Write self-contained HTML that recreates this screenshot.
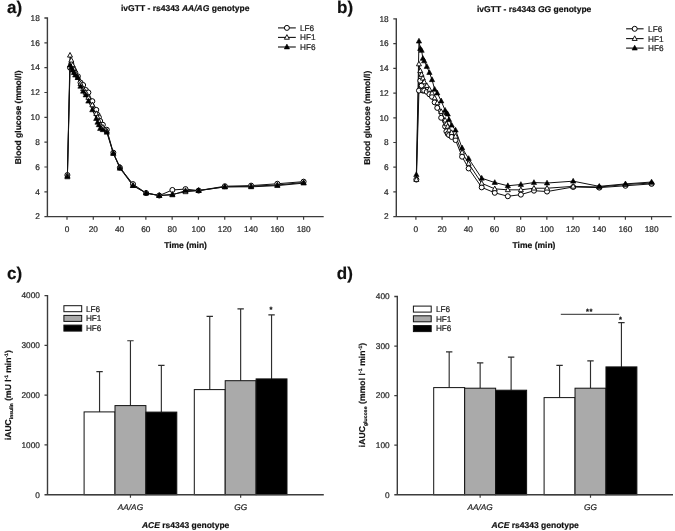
<!DOCTYPE html>
<html><head><meta charset="utf-8"><style>
html,body{margin:0;padding:0;background:#fff;}
svg{display:block;will-change:transform;}
text{font-family:"Liberation Sans",sans-serif;text-rendering:geometricPrecision;}
</style></head><body>
<svg width="675" height="531" viewBox="0 0 675 531">
<g>
<rect width="675" height="531" fill="#fff"/>
<path d="M44.40,18.00H47.40V216.65M44.40,216.65H323.70" fill="none" stroke="#3c3c3c" stroke-width="1.4"/>
<path d="M44.40,191.82H47.40M44.40,166.99H47.40M44.40,142.16H47.40M44.40,117.33H47.40M44.40,92.49H47.40M44.40,67.66H47.40M44.40,42.83H47.40M67.00,216.65V219.65M93.29,216.65V219.65M119.58,216.65V219.65M145.86,216.65V219.65M172.15,216.65V219.65M198.44,216.65V219.65M224.73,216.65V219.65M251.02,216.65V219.65M277.30,216.65V219.65M303.59,216.65V219.65" fill="none" stroke="#3c3c3c" stroke-width="1.2"/>
<text x="39.80" y="219.45" text-anchor="end" font-size="8.3" fill="#222" stroke="#222" stroke-width="0.2">2</text>
<text x="39.80" y="194.62" text-anchor="end" font-size="8.3" fill="#222" stroke="#222" stroke-width="0.2">4</text>
<text x="39.80" y="169.79" text-anchor="end" font-size="8.3" fill="#222" stroke="#222" stroke-width="0.2">6</text>
<text x="39.80" y="144.96" text-anchor="end" font-size="8.3" fill="#222" stroke="#222" stroke-width="0.2">8</text>
<text x="39.80" y="120.12" text-anchor="end" font-size="8.3" fill="#222" stroke="#222" stroke-width="0.2">10</text>
<text x="39.80" y="95.29" text-anchor="end" font-size="8.3" fill="#222" stroke="#222" stroke-width="0.2">12</text>
<text x="39.80" y="70.46" text-anchor="end" font-size="8.3" fill="#222" stroke="#222" stroke-width="0.2">14</text>
<text x="39.80" y="45.63" text-anchor="end" font-size="8.3" fill="#222" stroke="#222" stroke-width="0.2">16</text>
<text x="39.80" y="20.80" text-anchor="end" font-size="8.3" fill="#222" stroke="#222" stroke-width="0.2">18</text>
<text x="67.00" y="231.85" text-anchor="middle" font-size="8.3" fill="#222" stroke="#222" stroke-width="0.2">0</text>
<text x="93.29" y="231.85" text-anchor="middle" font-size="8.3" fill="#222" stroke="#222" stroke-width="0.2">20</text>
<text x="119.58" y="231.85" text-anchor="middle" font-size="8.3" fill="#222" stroke="#222" stroke-width="0.2">40</text>
<text x="145.86" y="231.85" text-anchor="middle" font-size="8.3" fill="#222" stroke="#222" stroke-width="0.2">60</text>
<text x="172.15" y="231.85" text-anchor="middle" font-size="8.3" fill="#222" stroke="#222" stroke-width="0.2">80</text>
<text x="198.44" y="231.85" text-anchor="middle" font-size="8.3" fill="#222" stroke="#222" stroke-width="0.2">100</text>
<text x="224.73" y="231.85" text-anchor="middle" font-size="8.3" fill="#222" stroke="#222" stroke-width="0.2">120</text>
<text x="251.02" y="231.85" text-anchor="middle" font-size="8.3" fill="#222" stroke="#222" stroke-width="0.2">140</text>
<text x="277.30" y="231.85" text-anchor="middle" font-size="8.3" fill="#222" stroke="#222" stroke-width="0.2">160</text>
<text x="303.59" y="231.85" text-anchor="middle" font-size="8.3" fill="#222" stroke="#222" stroke-width="0.2">180</text>
<text x="185.55" y="248.05" text-anchor="middle" font-size="8.5" font-weight="bold" fill="#111" stroke="#111" stroke-width="0.2">Time (min)</text>
<text transform="translate(21.40,117.33) rotate(-90)" text-anchor="middle" font-size="8.5" font-weight="bold" fill="#111" stroke="#111" stroke-width="0.2">Blood glucose (mmol/l)</text>
<text x="121.00" y="11.00" font-size="8.5" font-weight="bold" fill="#111" stroke="#111" stroke-width="0.2">ivGTT - rs4343 <tspan font-style="italic">AA/AG</tspan> genotype</text>
<text x="7.00" y="13.10" font-size="17" font-weight="bold" fill="#111" stroke="#111" stroke-width="0.2">a)</text>
<polyline points="67.40,175.06 70.02,67.66 71.34,63.94 72.65,67.66 73.96,70.15 75.27,72.63 77.90,76.35 80.52,82.56 83.15,85.04 85.77,90.01 88.40,92.49 92.33,101.18 96.27,109.88 97.58,114.84 98.89,117.33 100.21,121.05 102.83,124.77 106.77,129.74 113.33,152.71 119.89,167.61 133.01,184.12 146.13,193.06 159.25,195.54 172.38,189.96 185.50,189.09 198.62,190.58 224.86,186.23 251.11,185.61 277.35,183.75 303.60,181.64" fill="none" stroke="#111" stroke-width="1.0"/>
<polyline points="67.40,175.68 70.02,55.25 71.34,60.21 72.65,65.18 73.96,68.90 75.27,72.63 77.90,77.59 80.52,83.80 83.15,88.77 85.77,92.49 88.40,97.46 92.33,104.91 96.27,113.60 97.58,117.33 98.89,121.05 100.21,124.77 102.83,127.26 106.77,130.98 113.33,153.33 119.89,166.99 133.01,185.61 146.13,193.06 159.25,195.54 172.38,194.30 185.50,191.82 198.62,190.58 224.86,186.85 251.11,186.23 277.35,184.99 303.60,182.51" fill="none" stroke="#111" stroke-width="1.0"/>
<polyline points="67.40,176.92 70.02,65.18 71.34,67.66 72.65,70.15 73.96,72.63 75.27,75.11 77.90,77.59 80.52,86.29 83.15,91.25 85.77,94.98 88.40,101.18 92.33,109.88 96.27,118.57 97.58,122.29 98.89,124.77 100.21,128.50 102.83,129.74 106.77,132.22 113.33,153.33 119.89,168.23 133.01,185.61 146.13,193.06 159.25,195.54 172.38,194.92 185.50,190.58 198.62,190.58 224.86,186.85 251.11,186.85 277.35,185.61 303.60,183.13" fill="none" stroke="#111" stroke-width="1.0"/>
<circle cx="67.40" cy="175.06" r="2.5" fill="#fff" stroke="#000" stroke-width="1"/>
<circle cx="70.02" cy="67.66" r="2.5" fill="#fff" stroke="#000" stroke-width="1"/>
<circle cx="71.34" cy="63.94" r="2.5" fill="#fff" stroke="#000" stroke-width="1"/>
<circle cx="72.65" cy="67.66" r="2.5" fill="#fff" stroke="#000" stroke-width="1"/>
<circle cx="73.96" cy="70.15" r="2.5" fill="#fff" stroke="#000" stroke-width="1"/>
<circle cx="75.27" cy="72.63" r="2.5" fill="#fff" stroke="#000" stroke-width="1"/>
<circle cx="77.90" cy="76.35" r="2.5" fill="#fff" stroke="#000" stroke-width="1"/>
<circle cx="80.52" cy="82.56" r="2.5" fill="#fff" stroke="#000" stroke-width="1"/>
<circle cx="83.15" cy="85.04" r="2.5" fill="#fff" stroke="#000" stroke-width="1"/>
<circle cx="85.77" cy="90.01" r="2.5" fill="#fff" stroke="#000" stroke-width="1"/>
<circle cx="88.40" cy="92.49" r="2.5" fill="#fff" stroke="#000" stroke-width="1"/>
<circle cx="92.33" cy="101.18" r="2.5" fill="#fff" stroke="#000" stroke-width="1"/>
<circle cx="96.27" cy="109.88" r="2.5" fill="#fff" stroke="#000" stroke-width="1"/>
<circle cx="97.58" cy="114.84" r="2.5" fill="#fff" stroke="#000" stroke-width="1"/>
<circle cx="98.89" cy="117.33" r="2.5" fill="#fff" stroke="#000" stroke-width="1"/>
<circle cx="100.21" cy="121.05" r="2.5" fill="#fff" stroke="#000" stroke-width="1"/>
<circle cx="102.83" cy="124.77" r="2.5" fill="#fff" stroke="#000" stroke-width="1"/>
<circle cx="106.77" cy="129.74" r="2.5" fill="#fff" stroke="#000" stroke-width="1"/>
<circle cx="113.33" cy="152.71" r="2.5" fill="#fff" stroke="#000" stroke-width="1"/>
<circle cx="119.89" cy="167.61" r="2.5" fill="#fff" stroke="#000" stroke-width="1"/>
<circle cx="133.01" cy="184.12" r="2.5" fill="#fff" stroke="#000" stroke-width="1"/>
<circle cx="146.13" cy="193.06" r="2.5" fill="#fff" stroke="#000" stroke-width="1"/>
<circle cx="159.25" cy="195.54" r="2.5" fill="#fff" stroke="#000" stroke-width="1"/>
<circle cx="172.38" cy="189.96" r="2.5" fill="#fff" stroke="#000" stroke-width="1"/>
<circle cx="185.50" cy="189.09" r="2.5" fill="#fff" stroke="#000" stroke-width="1"/>
<circle cx="198.62" cy="190.58" r="2.5" fill="#fff" stroke="#000" stroke-width="1"/>
<circle cx="224.86" cy="186.23" r="2.5" fill="#fff" stroke="#000" stroke-width="1"/>
<circle cx="251.11" cy="185.61" r="2.5" fill="#fff" stroke="#000" stroke-width="1"/>
<circle cx="277.35" cy="183.75" r="2.5" fill="#fff" stroke="#000" stroke-width="1"/>
<circle cx="303.60" cy="181.64" r="2.5" fill="#fff" stroke="#000" stroke-width="1"/>
<polygon points="67.40,172.92 64.90,177.52 69.90,177.52" fill="#fff" stroke="#000" stroke-width="0.9"/>
<polygon points="70.02,52.49 67.52,57.09 72.52,57.09" fill="#fff" stroke="#000" stroke-width="0.9"/>
<polygon points="71.34,57.45 68.84,62.05 73.84,62.05" fill="#fff" stroke="#000" stroke-width="0.9"/>
<polygon points="72.65,62.42 70.15,67.02 75.15,67.02" fill="#fff" stroke="#000" stroke-width="0.9"/>
<polygon points="73.96,66.14 71.46,70.74 76.46,70.74" fill="#fff" stroke="#000" stroke-width="0.9"/>
<polygon points="75.27,69.87 72.77,74.47 77.77,74.47" fill="#fff" stroke="#000" stroke-width="0.9"/>
<polygon points="77.90,74.83 75.40,79.44 80.40,79.44" fill="#fff" stroke="#000" stroke-width="0.9"/>
<polygon points="80.52,81.04 78.02,85.64 83.02,85.64" fill="#fff" stroke="#000" stroke-width="0.9"/>
<polygon points="83.15,86.01 80.65,90.61 85.65,90.61" fill="#fff" stroke="#000" stroke-width="0.9"/>
<polygon points="85.77,89.73 83.27,94.33 88.27,94.33" fill="#fff" stroke="#000" stroke-width="0.9"/>
<polygon points="88.40,94.70 85.90,99.30 90.90,99.30" fill="#fff" stroke="#000" stroke-width="0.9"/>
<polygon points="92.33,102.15 89.83,106.75 94.83,106.75" fill="#fff" stroke="#000" stroke-width="0.9"/>
<polygon points="96.27,110.84 93.77,115.44 98.77,115.44" fill="#fff" stroke="#000" stroke-width="0.9"/>
<polygon points="97.58,114.56 95.08,119.17 100.08,119.17" fill="#fff" stroke="#000" stroke-width="0.9"/>
<polygon points="98.89,118.29 96.39,122.89 101.39,122.89" fill="#fff" stroke="#000" stroke-width="0.9"/>
<polygon points="100.21,122.01 97.71,126.61 102.71,126.61" fill="#fff" stroke="#000" stroke-width="0.9"/>
<polygon points="102.83,124.50 100.33,129.10 105.33,129.10" fill="#fff" stroke="#000" stroke-width="0.9"/>
<polygon points="106.77,128.22 104.27,132.82 109.27,132.82" fill="#fff" stroke="#000" stroke-width="0.9"/>
<polygon points="113.33,150.57 110.83,155.17 115.83,155.17" fill="#fff" stroke="#000" stroke-width="0.9"/>
<polygon points="119.89,164.23 117.39,168.83 122.39,168.83" fill="#fff" stroke="#000" stroke-width="0.9"/>
<polygon points="133.01,182.85 130.51,187.45 135.51,187.45" fill="#fff" stroke="#000" stroke-width="0.9"/>
<polygon points="146.13,190.30 143.63,194.90 148.63,194.90" fill="#fff" stroke="#000" stroke-width="0.9"/>
<polygon points="159.25,192.78 156.75,197.38 161.75,197.38" fill="#fff" stroke="#000" stroke-width="0.9"/>
<polygon points="172.38,191.54 169.88,196.14 174.88,196.14" fill="#fff" stroke="#000" stroke-width="0.9"/>
<polygon points="185.50,189.06 183.00,193.66 188.00,193.66" fill="#fff" stroke="#000" stroke-width="0.9"/>
<polygon points="198.62,187.82 196.12,192.42 201.12,192.42" fill="#fff" stroke="#000" stroke-width="0.9"/>
<polygon points="224.86,184.09 222.36,188.69 227.36,188.69" fill="#fff" stroke="#000" stroke-width="0.9"/>
<polygon points="251.11,183.47 248.61,188.07 253.61,188.07" fill="#fff" stroke="#000" stroke-width="0.9"/>
<polygon points="277.35,182.23 274.85,186.83 279.85,186.83" fill="#fff" stroke="#000" stroke-width="0.9"/>
<polygon points="303.60,179.75 301.10,184.35 306.10,184.35" fill="#fff" stroke="#000" stroke-width="0.9"/>
<polygon points="67.40,174.04 64.75,178.84 70.05,178.84" fill="#000" stroke="#000" stroke-width="0.6"/>
<polygon points="70.02,62.30 67.37,67.10 72.67,67.10" fill="#000" stroke="#000" stroke-width="0.6"/>
<polygon points="71.34,64.78 68.69,69.58 73.99,69.58" fill="#000" stroke="#000" stroke-width="0.6"/>
<polygon points="72.65,67.27 70.00,72.07 75.30,72.07" fill="#000" stroke="#000" stroke-width="0.6"/>
<polygon points="73.96,69.75 71.31,74.55 76.61,74.55" fill="#000" stroke="#000" stroke-width="0.6"/>
<polygon points="75.27,72.23 72.62,77.03 77.92,77.03" fill="#000" stroke="#000" stroke-width="0.6"/>
<polygon points="77.90,74.72 75.25,79.52 80.55,79.52" fill="#000" stroke="#000" stroke-width="0.6"/>
<polygon points="80.52,83.41 77.87,88.21 83.17,88.21" fill="#000" stroke="#000" stroke-width="0.6"/>
<polygon points="83.15,88.37 80.50,93.17 85.80,93.17" fill="#000" stroke="#000" stroke-width="0.6"/>
<polygon points="85.77,92.10 83.12,96.90 88.42,96.90" fill="#000" stroke="#000" stroke-width="0.6"/>
<polygon points="88.40,98.30 85.75,103.10 91.05,103.10" fill="#000" stroke="#000" stroke-width="0.6"/>
<polygon points="92.33,107.00 89.68,111.80 94.98,111.80" fill="#000" stroke="#000" stroke-width="0.6"/>
<polygon points="96.27,115.69 93.62,120.49 98.92,120.49" fill="#000" stroke="#000" stroke-width="0.6"/>
<polygon points="97.58,119.41 94.93,124.21 100.23,124.21" fill="#000" stroke="#000" stroke-width="0.6"/>
<polygon points="98.89,121.89 96.24,126.69 101.54,126.69" fill="#000" stroke="#000" stroke-width="0.6"/>
<polygon points="100.21,125.62 97.56,130.42 102.86,130.42" fill="#000" stroke="#000" stroke-width="0.6"/>
<polygon points="102.83,126.86 100.18,131.66 105.48,131.66" fill="#000" stroke="#000" stroke-width="0.6"/>
<polygon points="106.77,129.34 104.12,134.14 109.42,134.14" fill="#000" stroke="#000" stroke-width="0.6"/>
<polygon points="113.33,150.45 110.68,155.25 115.98,155.25" fill="#000" stroke="#000" stroke-width="0.6"/>
<polygon points="119.89,165.35 117.24,170.15 122.54,170.15" fill="#000" stroke="#000" stroke-width="0.6"/>
<polygon points="133.01,182.73 130.36,187.53 135.66,187.53" fill="#000" stroke="#000" stroke-width="0.6"/>
<polygon points="146.13,190.18 143.48,194.98 148.78,194.98" fill="#000" stroke="#000" stroke-width="0.6"/>
<polygon points="159.25,192.66 156.60,197.46 161.90,197.46" fill="#000" stroke="#000" stroke-width="0.6"/>
<polygon points="172.38,192.04 169.73,196.84 175.03,196.84" fill="#000" stroke="#000" stroke-width="0.6"/>
<polygon points="185.50,187.70 182.85,192.50 188.15,192.50" fill="#000" stroke="#000" stroke-width="0.6"/>
<polygon points="198.62,187.70 195.97,192.50 201.27,192.50" fill="#000" stroke="#000" stroke-width="0.6"/>
<polygon points="224.86,183.97 222.21,188.77 227.51,188.77" fill="#000" stroke="#000" stroke-width="0.6"/>
<polygon points="251.11,183.97 248.46,188.77 253.76,188.77" fill="#000" stroke="#000" stroke-width="0.6"/>
<polygon points="277.35,182.73 274.70,187.53 280.00,187.53" fill="#000" stroke="#000" stroke-width="0.6"/>
<polygon points="303.60,180.25 300.95,185.05 306.25,185.05" fill="#000" stroke="#000" stroke-width="0.6"/>
<path d="M278.00,27.90H295.80" stroke="#111" stroke-width="1.1"/>
<circle cx="286.90" cy="27.90" r="2.5" fill="#fff" stroke="#000" stroke-width="1"/>
<text x="300.00" y="30.80" font-size="8.2" fill="#222" stroke="#222" stroke-width="0.2">LF6</text>
<path d="M278.00,37.40H295.80" stroke="#111" stroke-width="1.1"/>
<polygon points="286.90,34.64 284.40,39.24 289.40,39.24" fill="#fff" stroke="#000" stroke-width="0.9"/>
<text x="300.00" y="40.30" font-size="8.2" fill="#222" stroke="#222" stroke-width="0.2">HF1</text>
<path d="M278.00,47.00H295.80" stroke="#111" stroke-width="1.1"/>
<polygon points="286.90,44.12 284.25,48.92 289.55,48.92" fill="#000" stroke="#000" stroke-width="0.6"/>
<text x="300.00" y="49.90" font-size="8.2" fill="#222" stroke="#222" stroke-width="0.2">HF6</text>
<path d="M393.30,18.90H396.30V216.65M393.30,216.65H671.70" fill="none" stroke="#3c3c3c" stroke-width="1.4"/>
<path d="M393.30,191.93H396.30M393.30,167.21H396.30M393.30,142.49H396.30M393.30,117.78H396.30M393.30,93.06H396.30M393.30,68.34H396.30M393.30,43.62H396.30M415.90,216.65V219.65M442.09,216.65V219.65M468.28,216.65V219.65M494.46,216.65V219.65M520.65,216.65V219.65M546.84,216.65V219.65M573.03,216.65V219.65M599.22,216.65V219.65M625.40,216.65V219.65M651.59,216.65V219.65" fill="none" stroke="#3c3c3c" stroke-width="1.2"/>
<text x="388.70" y="219.45" text-anchor="end" font-size="8.3" fill="#222" stroke="#222" stroke-width="0.2">2</text>
<text x="388.70" y="194.73" text-anchor="end" font-size="8.3" fill="#222" stroke="#222" stroke-width="0.2">4</text>
<text x="388.70" y="170.01" text-anchor="end" font-size="8.3" fill="#222" stroke="#222" stroke-width="0.2">6</text>
<text x="388.70" y="145.29" text-anchor="end" font-size="8.3" fill="#222" stroke="#222" stroke-width="0.2">8</text>
<text x="388.70" y="120.58" text-anchor="end" font-size="8.3" fill="#222" stroke="#222" stroke-width="0.2">10</text>
<text x="388.70" y="95.86" text-anchor="end" font-size="8.3" fill="#222" stroke="#222" stroke-width="0.2">12</text>
<text x="388.70" y="71.14" text-anchor="end" font-size="8.3" fill="#222" stroke="#222" stroke-width="0.2">14</text>
<text x="388.70" y="46.42" text-anchor="end" font-size="8.3" fill="#222" stroke="#222" stroke-width="0.2">16</text>
<text x="388.70" y="21.70" text-anchor="end" font-size="8.3" fill="#222" stroke="#222" stroke-width="0.2">18</text>
<text x="415.90" y="231.85" text-anchor="middle" font-size="8.3" fill="#222" stroke="#222" stroke-width="0.2">0</text>
<text x="442.09" y="231.85" text-anchor="middle" font-size="8.3" fill="#222" stroke="#222" stroke-width="0.2">20</text>
<text x="468.28" y="231.85" text-anchor="middle" font-size="8.3" fill="#222" stroke="#222" stroke-width="0.2">40</text>
<text x="494.46" y="231.85" text-anchor="middle" font-size="8.3" fill="#222" stroke="#222" stroke-width="0.2">60</text>
<text x="520.65" y="231.85" text-anchor="middle" font-size="8.3" fill="#222" stroke="#222" stroke-width="0.2">80</text>
<text x="546.84" y="231.85" text-anchor="middle" font-size="8.3" fill="#222" stroke="#222" stroke-width="0.2">100</text>
<text x="573.03" y="231.85" text-anchor="middle" font-size="8.3" fill="#222" stroke="#222" stroke-width="0.2">120</text>
<text x="599.22" y="231.85" text-anchor="middle" font-size="8.3" fill="#222" stroke="#222" stroke-width="0.2">140</text>
<text x="625.40" y="231.85" text-anchor="middle" font-size="8.3" fill="#222" stroke="#222" stroke-width="0.2">160</text>
<text x="651.59" y="231.85" text-anchor="middle" font-size="8.3" fill="#222" stroke="#222" stroke-width="0.2">180</text>
<text x="534.00" y="248.05" text-anchor="middle" font-size="8.5" font-weight="bold" fill="#111" stroke="#111" stroke-width="0.2">Time (min)</text>
<text transform="translate(370.00,117.78) rotate(-90)" text-anchor="middle" font-size="8.5" font-weight="bold" fill="#111" stroke="#111" stroke-width="0.2">Blood glucose (mmol/l)</text>
<text x="477.00" y="11.60" font-size="8.5" font-weight="bold" fill="#111" stroke="#111" stroke-width="0.2">ivGTT - rs4343 <tspan font-style="italic">GG</tspan> genotype</text>
<text x="337.00" y="13.40" font-size="17" font-weight="bold" fill="#111" stroke="#111" stroke-width="0.2">b)</text>
<polyline points="416.35,179.57 418.96,90.58 420.27,80.70 421.58,85.64 422.88,90.58 424.19,90.58 426.80,91.82 429.42,94.29 432.03,96.76 434.65,102.33 437.26,107.89 441.18,117.78 445.10,126.43 446.41,131.37 447.71,133.84 449.02,135.08 451.63,136.93 455.55,140.02 462.09,156.71 468.62,168.45 481.69,187.36 494.76,192.80 507.83,196.26 520.89,194.65 533.96,190.70 547.03,191.56 573.17,186.99 599.30,187.61 625.44,185.75 651.57,183.90" fill="none" stroke="#111" stroke-width="1.0"/>
<polyline points="416.35,179.57 418.96,64.01 420.27,70.81 421.58,74.52 422.88,78.23 424.19,81.93 426.80,85.64 429.42,89.35 432.03,93.06 434.65,98.00 437.26,102.94 441.18,111.60 445.10,120.25 446.41,123.95 447.71,126.43 449.02,130.13 451.63,132.61 455.55,136.31 462.09,152.38 468.62,163.50 481.69,183.28 494.76,188.84 507.83,189.83 520.89,189.83 533.96,188.22 547.03,188.22 573.17,186.37 599.30,186.99 625.44,184.52 651.57,183.03" fill="none" stroke="#111" stroke-width="1.0"/>
<polyline points="416.35,174.63 418.96,41.15 420.27,48.56 421.58,50.42 422.88,58.45 424.19,60.92 426.80,66.48 429.42,72.54 432.03,79.71 434.65,89.35 437.26,93.06 441.18,100.97 445.10,110.36 446.41,112.83 447.71,114.07 449.02,119.63 451.63,125.19 455.55,130.13 462.09,147.93 468.62,158.56 481.69,178.21 494.76,182.54 507.83,185.75 520.89,184.52 533.96,182.54 547.03,183.03 573.17,181.18 599.30,186.37 625.44,183.90 651.57,182.04" fill="none" stroke="#111" stroke-width="1.0"/>
<circle cx="416.35" cy="179.57" r="2.5" fill="#fff" stroke="#000" stroke-width="1"/>
<circle cx="418.96" cy="90.58" r="2.5" fill="#fff" stroke="#000" stroke-width="1"/>
<circle cx="420.27" cy="80.70" r="2.5" fill="#fff" stroke="#000" stroke-width="1"/>
<circle cx="421.58" cy="85.64" r="2.5" fill="#fff" stroke="#000" stroke-width="1"/>
<circle cx="422.88" cy="90.58" r="2.5" fill="#fff" stroke="#000" stroke-width="1"/>
<circle cx="424.19" cy="90.58" r="2.5" fill="#fff" stroke="#000" stroke-width="1"/>
<circle cx="426.80" cy="91.82" r="2.5" fill="#fff" stroke="#000" stroke-width="1"/>
<circle cx="429.42" cy="94.29" r="2.5" fill="#fff" stroke="#000" stroke-width="1"/>
<circle cx="432.03" cy="96.76" r="2.5" fill="#fff" stroke="#000" stroke-width="1"/>
<circle cx="434.65" cy="102.33" r="2.5" fill="#fff" stroke="#000" stroke-width="1"/>
<circle cx="437.26" cy="107.89" r="2.5" fill="#fff" stroke="#000" stroke-width="1"/>
<circle cx="441.18" cy="117.78" r="2.5" fill="#fff" stroke="#000" stroke-width="1"/>
<circle cx="445.10" cy="126.43" r="2.5" fill="#fff" stroke="#000" stroke-width="1"/>
<circle cx="446.41" cy="131.37" r="2.5" fill="#fff" stroke="#000" stroke-width="1"/>
<circle cx="447.71" cy="133.84" r="2.5" fill="#fff" stroke="#000" stroke-width="1"/>
<circle cx="449.02" cy="135.08" r="2.5" fill="#fff" stroke="#000" stroke-width="1"/>
<circle cx="451.63" cy="136.93" r="2.5" fill="#fff" stroke="#000" stroke-width="1"/>
<circle cx="455.55" cy="140.02" r="2.5" fill="#fff" stroke="#000" stroke-width="1"/>
<circle cx="462.09" cy="156.71" r="2.5" fill="#fff" stroke="#000" stroke-width="1"/>
<circle cx="468.62" cy="168.45" r="2.5" fill="#fff" stroke="#000" stroke-width="1"/>
<circle cx="481.69" cy="187.36" r="2.5" fill="#fff" stroke="#000" stroke-width="1"/>
<circle cx="494.76" cy="192.80" r="2.5" fill="#fff" stroke="#000" stroke-width="1"/>
<circle cx="507.83" cy="196.26" r="2.5" fill="#fff" stroke="#000" stroke-width="1"/>
<circle cx="520.89" cy="194.65" r="2.5" fill="#fff" stroke="#000" stroke-width="1"/>
<circle cx="533.96" cy="190.70" r="2.5" fill="#fff" stroke="#000" stroke-width="1"/>
<circle cx="547.03" cy="191.56" r="2.5" fill="#fff" stroke="#000" stroke-width="1"/>
<circle cx="573.17" cy="186.99" r="2.5" fill="#fff" stroke="#000" stroke-width="1"/>
<circle cx="599.30" cy="187.61" r="2.5" fill="#fff" stroke="#000" stroke-width="1"/>
<circle cx="625.44" cy="185.75" r="2.5" fill="#fff" stroke="#000" stroke-width="1"/>
<circle cx="651.57" cy="183.90" r="2.5" fill="#fff" stroke="#000" stroke-width="1"/>
<polygon points="416.35,176.81 413.85,181.41 418.85,181.41" fill="#fff" stroke="#000" stroke-width="0.9"/>
<polygon points="418.96,61.25 416.46,65.85 421.46,65.85" fill="#fff" stroke="#000" stroke-width="0.9"/>
<polygon points="420.27,68.05 417.77,72.65 422.77,72.65" fill="#fff" stroke="#000" stroke-width="0.9"/>
<polygon points="421.58,71.76 419.08,76.36 424.08,76.36" fill="#fff" stroke="#000" stroke-width="0.9"/>
<polygon points="422.88,75.47 420.38,80.07 425.38,80.07" fill="#fff" stroke="#000" stroke-width="0.9"/>
<polygon points="424.19,79.17 421.69,83.77 426.69,83.77" fill="#fff" stroke="#000" stroke-width="0.9"/>
<polygon points="426.80,82.88 424.30,87.48 429.30,87.48" fill="#fff" stroke="#000" stroke-width="0.9"/>
<polygon points="429.42,86.59 426.92,91.19 431.92,91.19" fill="#fff" stroke="#000" stroke-width="0.9"/>
<polygon points="432.03,90.30 429.53,94.90 434.53,94.90" fill="#fff" stroke="#000" stroke-width="0.9"/>
<polygon points="434.65,95.24 432.15,99.84 437.15,99.84" fill="#fff" stroke="#000" stroke-width="0.9"/>
<polygon points="437.26,100.18 434.76,104.78 439.76,104.78" fill="#fff" stroke="#000" stroke-width="0.9"/>
<polygon points="441.18,108.84 438.68,113.44 443.68,113.44" fill="#fff" stroke="#000" stroke-width="0.9"/>
<polygon points="445.10,117.49 442.60,122.09 447.60,122.09" fill="#fff" stroke="#000" stroke-width="0.9"/>
<polygon points="446.41,121.19 443.91,125.79 448.91,125.79" fill="#fff" stroke="#000" stroke-width="0.9"/>
<polygon points="447.71,123.67 445.21,128.27 450.21,128.27" fill="#fff" stroke="#000" stroke-width="0.9"/>
<polygon points="449.02,127.37 446.52,131.97 451.52,131.97" fill="#fff" stroke="#000" stroke-width="0.9"/>
<polygon points="451.63,129.85 449.13,134.45 454.13,134.45" fill="#fff" stroke="#000" stroke-width="0.9"/>
<polygon points="455.55,133.55 453.05,138.15 458.05,138.15" fill="#fff" stroke="#000" stroke-width="0.9"/>
<polygon points="462.09,149.62 459.59,154.22 464.59,154.22" fill="#fff" stroke="#000" stroke-width="0.9"/>
<polygon points="468.62,160.74 466.12,165.34 471.12,165.34" fill="#fff" stroke="#000" stroke-width="0.9"/>
<polygon points="481.69,180.52 479.19,185.12 484.19,185.12" fill="#fff" stroke="#000" stroke-width="0.9"/>
<polygon points="494.76,186.08 492.26,190.68 497.26,190.68" fill="#fff" stroke="#000" stroke-width="0.9"/>
<polygon points="507.83,187.07 505.33,191.67 510.33,191.67" fill="#fff" stroke="#000" stroke-width="0.9"/>
<polygon points="520.89,187.07 518.39,191.67 523.39,191.67" fill="#fff" stroke="#000" stroke-width="0.9"/>
<polygon points="533.96,185.46 531.46,190.06 536.46,190.06" fill="#fff" stroke="#000" stroke-width="0.9"/>
<polygon points="547.03,185.46 544.53,190.06 549.53,190.06" fill="#fff" stroke="#000" stroke-width="0.9"/>
<polygon points="573.17,183.61 570.67,188.21 575.67,188.21" fill="#fff" stroke="#000" stroke-width="0.9"/>
<polygon points="599.30,184.23 596.80,188.83 601.80,188.83" fill="#fff" stroke="#000" stroke-width="0.9"/>
<polygon points="625.44,181.76 622.94,186.36 627.94,186.36" fill="#fff" stroke="#000" stroke-width="0.9"/>
<polygon points="651.57,180.27 649.07,184.87 654.07,184.87" fill="#fff" stroke="#000" stroke-width="0.9"/>
<polygon points="416.35,171.75 413.70,176.55 419.00,176.55" fill="#000" stroke="#000" stroke-width="0.6"/>
<polygon points="418.96,38.27 416.31,43.07 421.61,43.07" fill="#000" stroke="#000" stroke-width="0.6"/>
<polygon points="420.27,45.68 417.62,50.48 422.92,50.48" fill="#000" stroke="#000" stroke-width="0.6"/>
<polygon points="421.58,47.54 418.93,52.34 424.23,52.34" fill="#000" stroke="#000" stroke-width="0.6"/>
<polygon points="422.88,55.57 420.23,60.37 425.53,60.37" fill="#000" stroke="#000" stroke-width="0.6"/>
<polygon points="424.19,58.04 421.54,62.84 426.84,62.84" fill="#000" stroke="#000" stroke-width="0.6"/>
<polygon points="426.80,63.60 424.15,68.40 429.45,68.40" fill="#000" stroke="#000" stroke-width="0.6"/>
<polygon points="429.42,69.66 426.77,74.46 432.07,74.46" fill="#000" stroke="#000" stroke-width="0.6"/>
<polygon points="432.03,76.83 429.38,81.63 434.68,81.63" fill="#000" stroke="#000" stroke-width="0.6"/>
<polygon points="434.65,86.47 432.00,91.27 437.30,91.27" fill="#000" stroke="#000" stroke-width="0.6"/>
<polygon points="437.26,90.18 434.61,94.98 439.91,94.98" fill="#000" stroke="#000" stroke-width="0.6"/>
<polygon points="441.18,98.09 438.53,102.89 443.83,102.89" fill="#000" stroke="#000" stroke-width="0.6"/>
<polygon points="445.10,107.48 442.45,112.28 447.75,112.28" fill="#000" stroke="#000" stroke-width="0.6"/>
<polygon points="446.41,109.95 443.76,114.75 449.06,114.75" fill="#000" stroke="#000" stroke-width="0.6"/>
<polygon points="447.71,111.19 445.06,115.99 450.36,115.99" fill="#000" stroke="#000" stroke-width="0.6"/>
<polygon points="449.02,116.75 446.37,121.55 451.67,121.55" fill="#000" stroke="#000" stroke-width="0.6"/>
<polygon points="451.63,122.31 448.98,127.11 454.28,127.11" fill="#000" stroke="#000" stroke-width="0.6"/>
<polygon points="455.55,127.25 452.90,132.05 458.20,132.05" fill="#000" stroke="#000" stroke-width="0.6"/>
<polygon points="462.09,145.05 459.44,149.85 464.74,149.85" fill="#000" stroke="#000" stroke-width="0.6"/>
<polygon points="468.62,155.68 465.97,160.48 471.27,160.48" fill="#000" stroke="#000" stroke-width="0.6"/>
<polygon points="481.69,175.33 479.04,180.13 484.34,180.13" fill="#000" stroke="#000" stroke-width="0.6"/>
<polygon points="494.76,179.66 492.11,184.46 497.41,184.46" fill="#000" stroke="#000" stroke-width="0.6"/>
<polygon points="507.83,182.87 505.18,187.67 510.48,187.67" fill="#000" stroke="#000" stroke-width="0.6"/>
<polygon points="520.89,181.64 518.24,186.44 523.54,186.44" fill="#000" stroke="#000" stroke-width="0.6"/>
<polygon points="533.96,179.66 531.31,184.46 536.61,184.46" fill="#000" stroke="#000" stroke-width="0.6"/>
<polygon points="547.03,180.15 544.38,184.95 549.68,184.95" fill="#000" stroke="#000" stroke-width="0.6"/>
<polygon points="573.17,178.30 570.52,183.10 575.82,183.10" fill="#000" stroke="#000" stroke-width="0.6"/>
<polygon points="599.30,183.49 596.65,188.29 601.95,188.29" fill="#000" stroke="#000" stroke-width="0.6"/>
<polygon points="625.44,181.02 622.79,185.82 628.09,185.82" fill="#000" stroke="#000" stroke-width="0.6"/>
<polygon points="651.57,179.16 648.92,183.96 654.22,183.96" fill="#000" stroke="#000" stroke-width="0.6"/>
<path d="M626.10,28.80H643.60" stroke="#111" stroke-width="1.1"/>
<circle cx="634.70" cy="28.80" r="2.5" fill="#fff" stroke="#000" stroke-width="1"/>
<text x="648.10" y="31.70" font-size="8.2" fill="#222" stroke="#222" stroke-width="0.2">LF6</text>
<path d="M626.10,38.60H643.60" stroke="#111" stroke-width="1.1"/>
<polygon points="634.70,35.84 632.20,40.44 637.20,40.44" fill="#fff" stroke="#000" stroke-width="0.9"/>
<text x="648.10" y="41.50" font-size="8.2" fill="#222" stroke="#222" stroke-width="0.2">HF1</text>
<path d="M626.10,48.10H643.60" stroke="#111" stroke-width="1.1"/>
<polygon points="634.70,45.22 632.05,50.02 637.35,50.02" fill="#000" stroke="#000" stroke-width="0.6"/>
<text x="648.10" y="51.00" font-size="8.2" fill="#222" stroke="#222" stroke-width="0.2">HF6</text>
<path d="M99.55,411.90V371.60M96.35,371.60H102.75" stroke="#2e2e2e" stroke-width="1.15" fill="none"/>
<rect x="84.10" y="411.90" width="30.90" height="82.80" fill="#fff" stroke="#111" stroke-width="1"/>
<path d="M130.45,405.60V340.70M127.25,340.70H133.65" stroke="#2e2e2e" stroke-width="1.15" fill="none"/>
<rect x="115.00" y="405.60" width="30.90" height="89.10" fill="#aaa" stroke="#111" stroke-width="1"/>
<path d="M161.35,412.10V365.40M158.15,365.40H164.55" stroke="#2e2e2e" stroke-width="1.15" fill="none"/>
<rect x="145.90" y="412.10" width="30.90" height="82.60" fill="#000" stroke="#111" stroke-width="1"/>
<path d="M209.75,389.60V316.40M206.55,316.40H212.95" stroke="#2e2e2e" stroke-width="1.15" fill="none"/>
<rect x="194.30" y="389.60" width="30.90" height="105.10" fill="#fff" stroke="#111" stroke-width="1"/>
<path d="M240.65,380.70V308.80M237.45,308.80H243.85" stroke="#2e2e2e" stroke-width="1.15" fill="none"/>
<rect x="225.20" y="380.70" width="30.90" height="114.00" fill="#aaa" stroke="#111" stroke-width="1"/>
<path d="M271.55,378.90V314.80M268.35,314.80H274.75" stroke="#2e2e2e" stroke-width="1.15" fill="none"/>
<rect x="256.10" y="378.90" width="30.90" height="115.80" fill="#000" stroke="#111" stroke-width="1"/>
<path d="M44.50,295.60H47.50V494.70M44.50,494.70H323.80" fill="none" stroke="#3c3c3c" stroke-width="1.4"/>
<path d="M44.50,444.93H47.50M44.50,395.15H47.50M44.50,345.38H47.50M130.45,494.70V497.70M240.65,494.70V497.70" fill="none" stroke="#3c3c3c" stroke-width="1.2"/>
<text x="39.90" y="497.50" text-anchor="end" font-size="8.3" fill="#222" stroke="#222" stroke-width="0.2">0</text>
<text x="39.90" y="447.73" text-anchor="end" font-size="8.3" fill="#222" stroke="#222" stroke-width="0.2">1000</text>
<text x="39.90" y="397.95" text-anchor="end" font-size="8.3" fill="#222" stroke="#222" stroke-width="0.2">2000</text>
<text x="39.90" y="348.18" text-anchor="end" font-size="8.3" fill="#222" stroke="#222" stroke-width="0.2">3000</text>
<text x="39.90" y="298.40" text-anchor="end" font-size="8.3" fill="#222" stroke="#222" stroke-width="0.2">4000</text>
<text x="130.45" y="509.90" text-anchor="middle" font-size="8.3" font-style="italic" fill="#222" stroke="#222" stroke-width="0.2">AA/AG</text>
<text x="240.65" y="509.90" text-anchor="middle" font-size="8.3" font-style="italic" fill="#222" stroke="#222" stroke-width="0.2">GG</text>
<text x="185.65" y="527.70" text-anchor="middle" font-size="8.5" font-weight="bold" fill="#111" stroke="#111" stroke-width="0.2"><tspan font-style="italic">ACE</tspan> rs4343 genotype</text>
<text transform="translate(10.70,395.15) rotate(-90)" text-anchor="middle" font-size="8.5" font-weight="bold" letter-spacing="0" fill="#111" stroke="#111" stroke-width="0.2">iAUC<tspan font-size="5" dy="2">insulin</tspan><tspan dy="-2"> (mU l</tspan><tspan font-size="5" dy="-3">-1</tspan><tspan dy="3"> min</tspan><tspan font-size="5" dy="-3">-1</tspan><tspan dy="3">)</tspan></text>
<text x="7.00" y="278.60" font-size="17" font-weight="bold" fill="#111" stroke="#111" stroke-width="0.2">c)</text>
<rect x="63.90" y="305.70" width="17.8" height="6" fill="#fff" stroke="#111" stroke-width="1"/>
<text x="85.90" y="311.50" font-size="8.2" fill="#222" stroke="#222" stroke-width="0.2">LF6</text>
<rect x="63.90" y="315.40" width="17.8" height="6" fill="#aaa" stroke="#111" stroke-width="1"/>
<text x="85.90" y="321.20" font-size="8.2" fill="#222" stroke="#222" stroke-width="0.2">HF1</text>
<rect x="63.90" y="325.10" width="17.8" height="6" fill="#000" stroke="#111" stroke-width="1"/>
<text x="85.90" y="330.90" font-size="8.2" fill="#222" stroke="#222" stroke-width="0.2">HF6</text>
<text x="271.30" y="311.50" text-anchor="middle" font-size="7.5" font-weight="bold" letter-spacing="0.8" fill="#111" stroke="#111" stroke-width="0.2">*</text>
<path d="M449.19,387.60V351.90M445.99,351.90H452.38" stroke="#2e2e2e" stroke-width="1.15" fill="none"/>
<rect x="433.70" y="387.60" width="30.97" height="107.15" fill="#fff" stroke="#111" stroke-width="1"/>
<path d="M480.15,388.20V362.80M476.95,362.80H483.35" stroke="#2e2e2e" stroke-width="1.15" fill="none"/>
<rect x="464.67" y="388.20" width="30.97" height="106.55" fill="#aaa" stroke="#111" stroke-width="1"/>
<path d="M511.12,390.20V357.10M507.93,357.10H514.33" stroke="#2e2e2e" stroke-width="1.15" fill="none"/>
<rect x="495.64" y="390.20" width="30.97" height="104.55" fill="#000" stroke="#111" stroke-width="1"/>
<path d="M559.57,397.60V365.40M556.37,365.40H562.77" stroke="#2e2e2e" stroke-width="1.15" fill="none"/>
<rect x="544.10" y="397.60" width="30.93" height="97.15" fill="#fff" stroke="#111" stroke-width="1"/>
<path d="M590.50,388.20V360.80M587.29,360.80H593.70" stroke="#2e2e2e" stroke-width="1.15" fill="none"/>
<rect x="575.03" y="388.20" width="30.93" height="106.55" fill="#aaa" stroke="#111" stroke-width="1"/>
<path d="M621.43,366.90V322.60M618.23,322.60H624.63" stroke="#2e2e2e" stroke-width="1.15" fill="none"/>
<rect x="605.96" y="366.90" width="30.93" height="127.85" fill="#000" stroke="#111" stroke-width="1"/>
<path d="M394.30,296.50H397.30V494.75M394.30,494.75H673.00" fill="none" stroke="#3c3c3c" stroke-width="1.4"/>
<path d="M394.30,445.19H397.30M394.30,395.62H397.30M394.30,346.06H397.30M480.15,494.75V497.75M590.50,494.75V497.75" fill="none" stroke="#3c3c3c" stroke-width="1.2"/>
<text x="389.70" y="497.55" text-anchor="end" font-size="8.3" fill="#222" stroke="#222" stroke-width="0.2">0</text>
<text x="389.70" y="447.99" text-anchor="end" font-size="8.3" fill="#222" stroke="#222" stroke-width="0.2">100</text>
<text x="389.70" y="398.43" text-anchor="end" font-size="8.3" fill="#222" stroke="#222" stroke-width="0.2">200</text>
<text x="389.70" y="348.86" text-anchor="end" font-size="8.3" fill="#222" stroke="#222" stroke-width="0.2">300</text>
<text x="389.70" y="299.30" text-anchor="end" font-size="8.3" fill="#222" stroke="#222" stroke-width="0.2">400</text>
<text x="480.15" y="509.95" text-anchor="middle" font-size="8.3" font-style="italic" fill="#222" stroke="#222" stroke-width="0.2">AA/AG</text>
<text x="590.50" y="509.95" text-anchor="middle" font-size="8.3" font-style="italic" fill="#222" stroke="#222" stroke-width="0.2">GG</text>
<text x="535.15" y="527.75" text-anchor="middle" font-size="8.5" font-weight="bold" fill="#111" stroke="#111" stroke-width="0.2"><tspan font-style="italic">ACE</tspan> rs4343 genotype</text>
<text transform="translate(364.60,395.02) rotate(-90)" text-anchor="middle" font-size="8.5" font-weight="bold" letter-spacing="0.11" fill="#111" stroke="#111" stroke-width="0.2">iAUC<tspan font-size="5" dy="2">glucose</tspan><tspan dy="-2"> (mmol l</tspan><tspan font-size="5" dy="-3">-1</tspan><tspan dy="3"> min</tspan><tspan font-size="5" dy="-3">-1</tspan><tspan dy="3">)</tspan></text>
<text x="336.80" y="278.60" font-size="17" font-weight="bold" fill="#111" stroke="#111" stroke-width="0.2">d)</text>
<rect x="413.40" y="306.10" width="17.8" height="6" fill="#fff" stroke="#111" stroke-width="1"/>
<text x="435.90" y="311.90" font-size="8.2" fill="#222" stroke="#222" stroke-width="0.2">LF6</text>
<rect x="413.40" y="315.80" width="17.8" height="6" fill="#aaa" stroke="#111" stroke-width="1"/>
<text x="435.90" y="321.60" font-size="8.2" fill="#222" stroke="#222" stroke-width="0.2">HF1</text>
<rect x="413.40" y="325.60" width="17.8" height="6" fill="#000" stroke="#111" stroke-width="1"/>
<text x="435.90" y="331.40" font-size="8.2" fill="#222" stroke="#222" stroke-width="0.2">HF6</text>
<text x="620.90" y="322.30" text-anchor="middle" font-size="7.5" font-weight="bold" letter-spacing="0.8" fill="#111" stroke="#111" stroke-width="0.2">*</text>
<text x="589.60" y="313.80" text-anchor="middle" font-size="7.5" font-weight="bold" letter-spacing="0.8" fill="#111" stroke="#111" stroke-width="0.2">**</text>
<path d="M560.80,314.30H619.20" stroke="#555" stroke-width="1.2"/>
</g>
</svg>
</body></html>
